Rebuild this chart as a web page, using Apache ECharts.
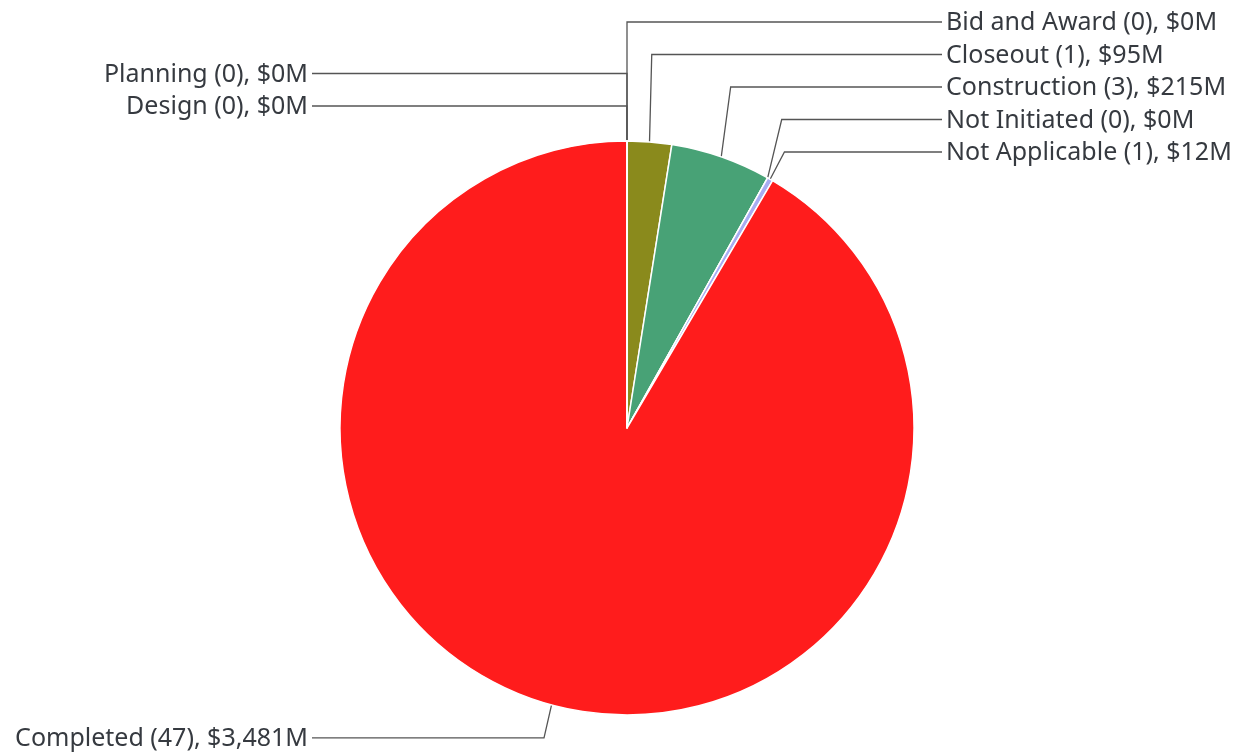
<!DOCTYPE html>
<html>
<head>
<meta charset="utf-8">
<script src="https://cdn.jsdelivr.net/npm/echarts@6/dist/echarts.min.js"></script>
<style>html,body{margin:0;padding:0;background:#fff;}#c{width:1244px;height:753px;}</style>
</head>
<body>
<div id="c"></div>
<script>
const names = ['Bid and Award', 'Closeout', 'Construction', 'Not Initiated', 'Not Applicable', 'Completed', 'Planning', 'Design'];
const counts = [0, 1, 3, 0, 1, 47, 0, 0];
const values = [0, 95, 215, 0, 12, 3481, 0, 0];
const colors = ['#6f6f6f', '#8a8a1c', '#48a276', '#c0c0c0', '#a8acf2', '#ff1c1c', '#6f6f6f', '#6f6f6f'];

const data = names.map((n, i) => ({ name: n, value: values[i], count: counts[i], itemStyle: { color: colors[i] } }));

// layout constants
const CX = 627, CY = 428, R = 287;
const RIGHT_LINE_END = 942, LEFT_LINE_END = 312, TEXT_GAP = 4;
const RIGHT_TOP = 22, LEFT_TOP = 73.5, ROW_H = 32.5, LOWER_DROP = 33;

// slice mid-fractions to choose label side
const total = values.reduce((a, b) => a + b, 0);
const midFrac = [];
let acc = 0;
values.forEach(v => { midFrac.push((acc + v / 2) / total); acc += v; });
const isRight = midFrac.map(f => f < 0.5);
const rightOrder = values.map((v, i) => i).filter(i => isRight[i]).sort((a, b) => midFrac[a] - midFrac[b]);
const leftUpperOrder = values.map((v, i) => i).filter(i => !isRight[i] && midFrac[i] > 0.75);

const chart = echarts.init(document.getElementById('c'));
chart.setOption({
  animation: false,
  series: [{
    type: 'pie',
    center: [CX, CY],
    radius: R,
    startAngle: 90,
    clockwise: true,
    data: data,
    itemStyle: { borderColor: '#fff', borderWidth: 1.5 },
    label: {
      show: true,
      position: 'outside',
      fontFamily: 'Noto Sans',
      fontSize: 25,
      color: '#363a40',
      formatter: p => p.name + ' (' + p.data.count + '), $' + p.value.toLocaleString('en-US') + 'M'
    },
    labelLine: { show: true, length: 15, length2: 10, lineStyle: { color: '#555', width: 1.3 } },
    labelLayout: function (p) {
      const i = p.dataIndex;
      const a = p.labelLinePoints ? p.labelLinePoints[0] : [CX, CY - R];
      const bx = a[0] + 0.1 * (a[0] - CX);
      let y, endX, tx, align;
      if (isRight[i]) {
        y = RIGHT_TOP + rightOrder.indexOf(i) * ROW_H;
        endX = RIGHT_LINE_END; tx = endX + TEXT_GAP; align = 'left';
      } else {
        const k = leftUpperOrder.indexOf(i);
        y = k >= 0 ? LEFT_TOP + k * ROW_H : a[1] + LOWER_DROP;
        endX = LEFT_LINE_END; tx = endX - TEXT_GAP; align = 'right';
      }
      return {
        x: tx, y: y + 1, align: align, verticalAlign: 'middle',
        labelLinePoints: [[a[0], a[1]], [bx, y], [endX, y]]
      };
    }
  }]
});
</script>
</body>
</html>
